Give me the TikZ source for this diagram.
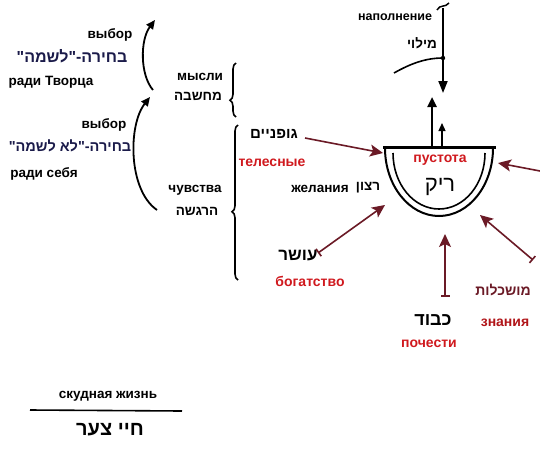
\documentclass[tikz,border=0pt]{standalone}
\usepackage{fontspec}
\setmainfont{Liberation Sans}
\newfontfamily\heb[Script=Hebrew]{Liberation Sans}
\TeXXeTstate=1
\usetikzlibrary{arrows.meta,decorations.pathreplacing}
\definecolor{arrm}{HTML}{6B1A26}
\definecolor{redlab}{HTML}{D0191E}
\definecolor{navyh}{HTML}{1B1B4A}
\begin{document}
\begin{tikzpicture}[x=1pt,y=-1pt,
  lab/.style={font=\bfseries\fontsize{13.5}{13.5}\selectfont, inner sep=0pt},
  rlab/.style={font=\bfseries\fontsize{14}{14}\selectfont, inner sep=0pt, text=redlab},
  hebt/.style={font=\heb\bfseries\fontsize{14.5}{14.5}\selectfont, inner sep=0pt},
  hebs/.style={font=\heb\bfseries\fontsize{13.5}{13.5}\selectfont, inner sep=0pt},
  blk/.style={line width=1.8pt, -{Triangle[length=9pt,width=8pt]}},
  marr/.style={draw=arrm, line width=1.6pt, -{Stealth[length=13pt,width=12pt,inset=3pt]}},
  marrb/.style={draw=arrm, line width=1.6pt, {Bar[width=9pt,line width=1.6pt]}-{Stealth[length=13pt,width=12pt,inset=3pt]}},
  brc/.style={line width=1.6pt, decorate, decoration={brace, amplitude=6pt}}
]
\useasboundingbox (0,0) rectangle (540,458);
\fill[white] (0,0) rectangle (540,458);

% left column
\node[lab] (vyb1) at (110,35) {выбор};
\node[hebt, font=\heb\bfseries\fontsize{16}{16}\selectfont, text=navyh] (hl1) at (72,56) {\beginR בחירה-"לשמה"\endR};
\node[lab] (rt) at (51,82) {ради Творца};
\node[lab] (vyb2) at (104,125) {выбор};
\node[hebt, text=navyh] (hl2) at (70,146) {\beginR בחירה-"לא לשמה"\endR};
\node[lab] (rs) at (44,174) {ради себя};

% curved arrows
\coordinate (c1s) at (153,90);
\coordinate (c1e) at (155,20);
\coordinate (c2s) at (157,210);
\coordinate (c2e) at (150,97);
\draw[blk] (c1s) .. controls (140,75) and (140,40) .. (c1e);
\draw[blk] (c2s) .. controls (128,190) and (128,125) .. (c2e);

% thoughts / feelings
\node[lab] (mys) at (200,77) {мысли};
\node[hebs] (mah) at (198,96) {\beginR מחשבה\endR};
\node[lab] (chu) at (195,190) {чувства};
\node[hebs] (har) at (197,211) {\beginR הרגשה\endR};
\coordinate (b1a) at (236,117);
\coordinate (b1b) at (236,63);
\coordinate (b2a) at (238,280);
\coordinate (b2b) at (238,125);
\draw[brc, decoration={aspect=0.31}] (b1a) -- (b1b);
\draw[brc, decoration={aspect=0.44}] (b2a) -- (b2b);

% bowl
\draw[line width=3pt] (383,147) -- (496,147);
\draw[line width=2pt] (385,148) .. controls (385,185.5) and (409.2,216) .. (439,216)
   .. controls (468.8,216) and (493,185.5) .. (493,148);
\draw[line width=1.6pt] (393,153) .. controls (393,184) and (413.6,209) .. (439,209)
   .. controls (464.4,209) and (485,184) .. (485,153);
\node[rlab] (pus) at (440,160) {пустота};
\node[font=\heb\fontsize{22}{22}\selectfont, inner sep=0pt] (rik) at (440,187) {\beginR ריק\endR};

% up arrows
\coordinate (u1s) at (432,146);
\coordinate (u1e) at (432,97);
\coordinate (u2s) at (442,146);
\coordinate (u2e) at (442,123);
\draw[line width=2.4pt, -{Triangle[length=10pt,width=9pt]}] (u1s) -- (u1e);
\draw[line width=1.3pt, -{Triangle[length=8pt,width=7pt]}] (u2s) -- (u2e);

% filling
\node[lab, font=\bfseries\fontsize{12.5}{12.5}\selectfont] (nap) at (395,17) {наполнение};
\node[hebs] (mil) at (422,43) {\beginR מילוי\endR};
\coordinate (dtop) at (443,8);
\coordinate (dend) at (443,93);
\coordinate (dcross) at (443,58);
\coordinate (arcs) at (394,73);
\draw[line width=1.8pt, -{Triangle[length=12pt,width=9pt]}] (dtop) -- (dend);
\draw[line width=1.5pt] (437,10) .. controls (440,4) and (445,8) .. (449,3);
\draw[line width=1.6pt] (arcs) .. controls (410,64) and (425,58) .. (dcross);
\fill (dcross) circle (2.2pt);

% desires
\node[hebs, font=\heb\bfseries\fontsize{15}{15}\selectfont] (guf) at (274,134) {\beginR גופניים\endR};
\node[rlab] (tel) at (272,163) {телесные};
\coordinate (gs) at (305,138);
\coordinate (ge) at (383,153);
\draw[marr] (gs) -- (ge);
\coordinate (rs1) at (540,171);
\coordinate (re1) at (498,163);
\draw[marr] (rs1) -- (re1);

\node[lab] (zhe) at (320,189) {желания};
\node[hebs] (rat) at (368,188) {\beginR רצון\endR};

\node[hebs, font=\heb\bfseries\fontsize{17}{17}\selectfont] (osh) at (298,256) {\beginR עושר\endR};
\node[rlab] (bog) at (310,281) {богатство};
\coordinate (bs) at (318,253);
\coordinate (be) at (385,205);
\draw[marrb] (bs) -- (be);

\node[hebs, font=\heb\bfseries\fontsize{18}{18}\selectfont] (kav) at (433,320) {\beginR כבוד\endR};
\node[rlab] (poc) at (429,344) {почести};
\coordinate (ps) at (445,297);
\coordinate (pe) at (445,234);
\draw[marrb] (ps) -- (pe);

\node[hebs, font=\heb\bfseries\fontsize{14}{14}\selectfont, text=arrm] (mus) at (503,290) {\beginR מושכלות\endR};
\node[rlab, text=redlab!85!black] (zna) at (505,323) {знания};
\coordinate (zs) at (533,260);
\coordinate (ze) at (480,215);
\draw[marrb] (zs) -- (ze);

% poor life
\node[lab] (sku) at (108,396) {скудная жизнь};
\coordinate (la) at (30,410);
\coordinate (lb) at (182,411);
\draw[line width=1.6pt] (la) -- (lb);
\node[hebt, font=\heb\bfseries\fontsize{20}{20}\selectfont] (hts) at (110,430) {\beginR חיי צער\endR};
\end{tikzpicture}
\end{document}
